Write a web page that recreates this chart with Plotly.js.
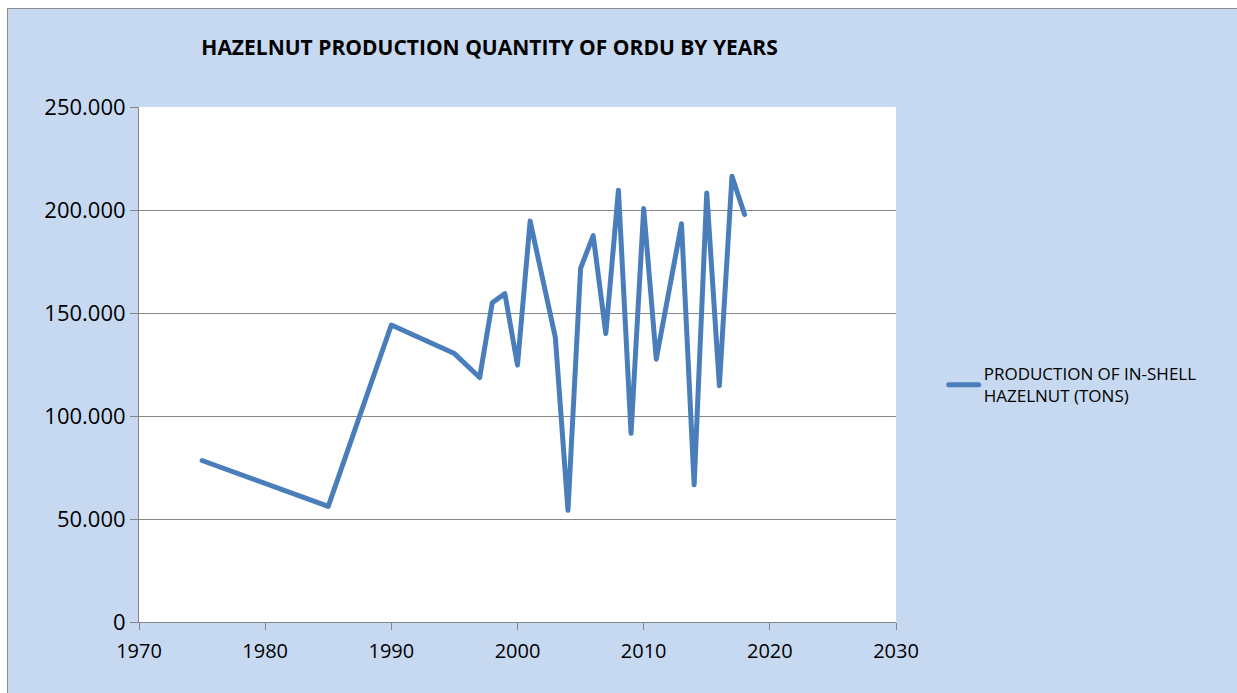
<!DOCTYPE html>
<html>
<head>
<meta charset="utf-8">
<script src="https://cdn.plot.ly/plotly-3.0.1.min.js"></script>
<style>
  html, body { margin: 0; padding: 0; background: #fff; overflow: hidden; }
  #frame {
    position: absolute; left: 7px; top: 8px; width: 1230px; height: 685px;
    background: #C6D9F1; border-left: 1px solid #8c8c8c; border-top: 1px solid #8c8c8c;
    box-sizing: border-box;
  }
  #chart { position: absolute; left: 8px; top: 9px; width: 1229px; height: 684px; }
  .js-line { stroke-linecap: round; stroke-linejoin: round; }
</style>
</head>
<body>
<div id="frame"></div>
<div id="chart"></div>
<script>
// Ordu in-shell hazelnut production (tons)
const years = [1975, 1985, 1990, 1995, 1997, 1998, 1999, 2000, 2001, 2003, 2004, 2005,
               2006, 2007, 2008, 2009, 2010, 2011, 2013, 2014, 2015, 2016, 2017, 2018];
const production = [78400, 56100, 144200, 130300, 118700, 155000, 159400, 124700, 194600,
                    138100, 54200, 171700, 187600, 140000, 209600, 91600, 200700, 127600,
                    193300, 66600, 208300, 114700, 216400, 197800];
const seriesName = "PRODUCTION OF IN-SHELL<br>HAZELNUT (TONS)";
const chartTitle = "HAZELNUT PRODUCTION QUANTITY OF ORDU BY YEARS";

const FONT = "'Open Sans', Lato, sans-serif";
const GRAY = "#868686";

const trace = {
  x: years, y: production, type: "scatter", mode: "lines", name: seriesName,
  line: { color: "#4A7EBB", width: 5 },
  hoverinfo: "x+y",
};

const layout = {
  width: 1229, height: 684,
  margin: { l: 131, r: 341, t: 98, b: 71, pad: 0 },
  paper_bgcolor: "#C6D9F1", plot_bgcolor: "#ffffff",
  separators: ",.",
  font: { family: FONT, color: "#000", size: 20 },
  title: {
    text: "<b>" + chartTitle + "</b>",
    font: { family: FONT, size: 21, color: "#000" },
    x: 0.3918, xanchor: "center", y: 0.944, yanchor: "middle",
  },
  xaxis: {
    range: [1970, 2030], tick0: 1970, dtick: 10, tickmode: "linear",
    showgrid: false, zeroline: false,
    showline: true, linecolor: GRAY, linewidth: 1,
    ticks: "outside", ticklen: 7, tickcolor: GRAY, tickwidth: 1,
    ticklabelstandoff: 4,
    tickfont: { family: FONT, size: 20, color: "#000" },
  },
  yaxis: {
    range: [0, 250000], tick0: 0, dtick: 50000, tickmode: "linear",
    tickformat: ",d",
    showgrid: true, gridcolor: GRAY, gridwidth: 1, zeroline: false,
    showline: true, linecolor: GRAY, linewidth: 1,
    ticks: "outside", ticklen: 8, tickcolor: GRAY, tickwidth: 1,
    tickfont: { family: FONT, size: 22, color: "#000" },
  },
  showlegend: true,
  legend: {
    x: 1.063, xanchor: "left", y: 0.46, yanchor: "middle",
    bgcolor: "rgba(0,0,0,0)", borderwidth: 0,
    font: { family: FONT, size: 17, color: "#000" },
  },
};

Plotly.newPlot("chart", [trace], layout, { displayModeBar: false, staticPlot: true });
</script>
</body>
</html>
